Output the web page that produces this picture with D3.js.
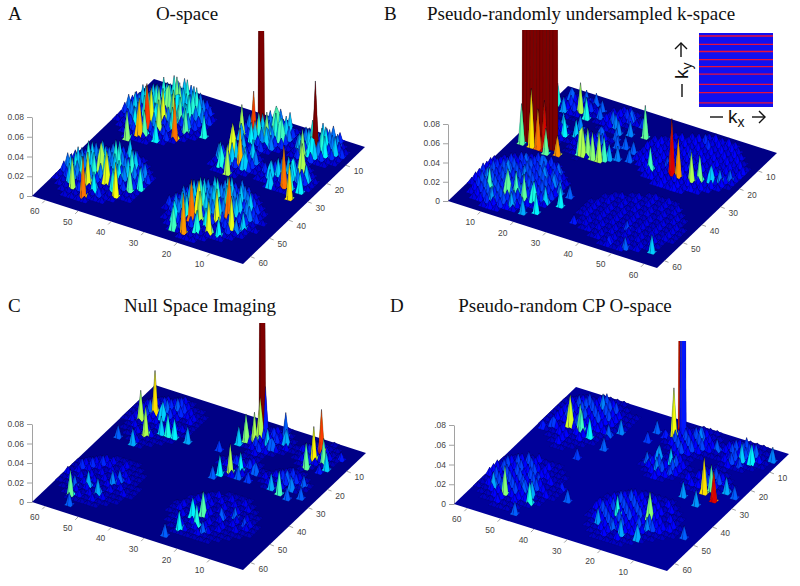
<!DOCTYPE html>
<html><head><meta charset="utf-8">
<script src="https://cdn.jsdelivr.net/npm/d3@7/dist/d3.min.js"></script>
<style>html,body{margin:0;padding:0;background:#fff}svg{display:block}</style>
</head><body><svg id="c" width="800" height="586"></svg>
<script>
// ---- data: [u, v, height, optional colour value]
const zTicks=[0,0.02,0.04,0.06,0.08];
const edgeTicks=[10,20,30,40,50,60];
const insetRows=[2.6,9.8,16,23,29,35.5,44.5,51.5,60.5];
const peaksA=[[10,21,.045],[9,17,.033],[12,16,.033],[14,14,.03],[16,14,.025],[8,28,.028],[10,25,.038],[11,18,.02],[19,22,.042],[25,17,.022],[13,20,.03],[16,18,.022],[7,22,.02],[11,24,.025],[15,25,.02],[18,14,.02],[6,12,.018],[20,18,.025],[14,11,.02],[10,11,.02],
[4,48,.02],[7,55,.03],[12,58,.042],[10,52,.033],[10,45,.03],[14,49,.033],[19,53,.034],[21,49,.025],[23,47,.022],[7,50,.022],[13,54,.02],[16,46,.02],[17,51,.022],[5,53,.018],
[42,53,.042],[42,49,.034],[43,59,.04],[40,59,.024],[48,50,.033],[50,47,.042],[49,56,.033],[53,51,.033],[56,50,.018],[46,57,.022],[44,52,.03],[52,56,.02],[40,52,.022],[47,54,.02],[55,52,.014],[38,55,.02],
[36,21,.033],[40,24,.038],[39,29,.03],[36,27,.022],[42,25,.018],[34,24,.018],[37,17,.016],[41,19,.018],
[36,6,.6],[36,10,.045],[33,11,.03],[40,5,.025],[43,5,.018],[44,9,.024],[40,10,.028],[34,13,.016],[37,13,.02],[41,12,.018],
[55,27,.042],[56,19,.03],[52,29,.018],[59,31,.036],[60,27,.02],[57,27,.022],[55,22,.02],[50,25,.018],[59,22,.018],
[53,7,.068],[52,12,.028],[55,5,.02],[57,9,.02],[50,10,.018],[58,4,.014],[54,11,.02]];
const peaksB=[[3,28,1],[4,28,1],[5,28,1],[6,28,1],[7,28,1],[8,28,1],[9,28,1],[10,28,1],[11,28,1],[12,28,1],
[3,30,.041,.026],[6,30,.06,.036],[8,30,.041,.042],[10,30,.052,.05],[11,31,.026,.026],[14,30,.02,.04],
[9,9,.03],[12,11,.022],[2,9,.022],[5,11,.015],[8,4,.012],[11,4,.012],[14,6,.012],[4,5,.012],[15,9,.012],[11,21,.02],[14,20,.018],[9,18,.016],[13,16,.014],
[19,27,.024],[20,27,.03],[21,26,.028],[23,27,.028],[25,27,.03],[26,26,.024],[27,25,.016],[29,24,.014],[32,23,.012],[22,20,.012],[26,19,.012],[18,22,.012],[24,16,.012],[28,18,.012],[20,17,.012],[31,19,.012],
[30,11,.033,.026],[23,6,.012],[21,11,.014],[23,13,.014],[19,9,.012],[26,12,.014],[27,7,.01],
[45,23,.058,.05],[47,23,.04],[51,23,.03],[53,22,.027],[39,24,.024],[56,21,.018],[58,20,.014],[60,18,.012],[42,20,.01],[48,18,.01],
[12,53,.026],[7,54,.024],[14,52,.024],[17,53,.026],[20,53,.022],[23,52,.018],[27,51,.02],[23,57,.02],[10,58,.015],[16,58,.016],[4,50,.014],[7,44,.014],[12,44,.014],[17,42,.014],[21,44,.014],[24,46,.014],[14,37,.012],[19,38,.012],[9,38,.012],[20,59,.016],[27,46,.012],
[59,58,.018],[48,52,.01],[52,60,.012],[47,60,.008],[34,56,.008]];
const peaksC=[[36,6,.6],[37,6,.05,.008],[36,7,.04,.03],[36,10,.03],[34,11,.028],[33,13,.018],[42,4,.025,.012],[44,7,.016],[40,10,.018],[42,11,.012],
[54,6,.045],[54,10,.035],[54,14,.026],[57,10,.026],[59,12,.018],[60,6,.008],[58,14,.008],
[54,28,.024],[51,27,.016],[56,25,.014],[58,22,.012],[60,27,.012],[53,22,.012],[57,29,.012],
[38,26,.03],[36,28,.02],[40,24,.02],[35,30,.012],[44,23,.012],[44,27,.01],[41,27,.012],
[7,12,.045,.036],[5,16,.03],[10,22,.03],[10,13,.018],[15,19,.022],[17,19,.02],[13,19,.018],[21,19,.016],[9,27,.016],[4,26,.012],[30,18,.01],
[7,56,.026],[9,50,.016],[13,52,.016],[14,46,.014],[15,44,.012],[9,60,.012],[6,52,.012],
[42,47,.025],[40,49,.02],[43,52,.022],[40,56,.02],[38,60,.012],[47,46,.012],[50,44,.012],[54,46,.01],[46,54,.012]];
const peaksD=[[34,4,.6,.05],[35,5,.6,.008],[34,8,.05,.034],[41,6,.014],[47,8,.012],[32,9,.008],
[55,9,.018],[58,9,.02],[57,5,.012],[62,5,.014],[52,10,.008],[56,12,.01],
[54,27,.036],[55,25,.026],[58,29,.03,.05],[50,31,.015],[55,33,.015],[59,24,.016],[62,25,.012],
[36,19,.015],[40,20,.018],[34,22,.012],[38,24,.014],[42,24,.01],
[8,17,.032],[11,17,.026],[12,18,.024],[15,19,.02],[19,16,.012],[21,13,.014],[29,8,.012],[15,5,.01],[4,19,.01],[17,29,.01],[21,22,.012],[2,21,.008],[29,13,.01],
[9,53,.028],[5,52,.016],[17,54,.022],[16,51,.016],[16,60,.012],[25,48,.012],[21,44,.008],[14,44,.01],[13,50,.012],
[48,45,.028],[40,48,.022],[37,53,.015],[50,55,.016],[45,55,.016],[50,50,.014],[60,48,.012],[42,54,.012]];
// low texture: one digit per lattice cell
const lowA=["0000000000000000 0013100000232000","0000343000000000 0234241023432100","0023535432000000 1323432135243210","0235464353200000 3243523124352420","1342536454210000 2354342132334210","2435364253320000 2243322113242110","2354625342210000 1122131012121100","3425343423210000 0111210001110000","2335242312110000 0012100000111000","1232231211110000 0232310001232100","1122121211100000 2343231023432210","0112112121000000 3242421234243210","0011211110000000 1232221121221110","0001111000000000 1121110112121100","0000000000000000 0111100001111000","0000000000000000 0000000000000000","0000000000000000 0000000000000000","0000124210000000 0000012321000000","0012342321000000 0001234232100000","0134353242100000 0023435343210000","1243435352310000 0134353432421000","2352434243320000 0245342534321000","2434342332210000 1342534324232100","3242533221210000 1234243432221000","2431322212110000 2342324222121100","1232221121110000 1232221212111000","1121212111110000 0122121211211000","0111211211000000 0112121121110000","0011111110000000 0011211111100000","0001111000000000 0001111110000000","0000000000000000 0000011100000000"];
const lowB=["0000000000000000 0000000000000000","0023200003420000 0000003434300000","0245420034542000 0000345343430000","1354353134353000 0034343534343000","1245342045421000 0243434343434200","0123310234310000 3434343434343420","0012100013210000 3434345343434340","0000000001000000 4343434343434340","0013200023420000 3434343434343430","0235420354420000 3434343434343430","1345341354532000 3434343434343420","1454532345441000 0343434343434300","0234320234531000 0034343434343000","0012100123210000 0003434343430000","0000000001000000 0000034343000000","0000000000000000 0000000000000000","0000000000000000 0000000000000000","0000354530000000 0000002323200000","0035456453000000 0000232323230000","0354565645300000 0023232323232000","3456565656530000 0232323232323200","4565656565630000 0232323232323200","4656565656540000 2323232323232320","5656565656540000 2323232323232320","4565656565650000 2323232323232320","4656565656530000 2323232323232320","3565656565430000 0232323232323200","0456565654300000 0232323232323200","0345656543000000 0023232323232000","0034545430000000 0000232323230000","0000343000000000 0000002323000000"];
const lowC=["0000000000000000 0000100000010000","0000121000000000 0012110001211000","0012232110000000 0123211012321100","0123343211000000 1232321123232100","1232423221000000 1323212112321100","1243332121000000 0232321012321000","1232322111000000 0123210001210000","1222212221000000 0012100000100000","1212122111000000 0011100001110000","0121212110000000 0121210012321000","0112121110000000 1232321123232100","0012111100000000 1212121212321100","0001211000000000 0121210121211000","0000110000000000 0012100011100000","0000000000000000 0000000000000000","0000000000000000 0000000000000000","0000000000000000 0000000000000000","0000111100000000 0000011110000000","0012212110000000 0001212121000000","0123212111000000 0012121212100000","1232121211000000 0123212121110000","1321212121000000 0121212121210000","1212121211100000 1212121212121000","2121212121100000 1212121212121000","1212121212100000 1121212121211000","1121212111000000 0121212121110000","0112121211000000 0112121211100000","0011212110000000 0011212111000000","0001111100000000 0001111110000000"];
const lowD=["0000111100000000 0001110000111000","0011232110000000 0112211012321100","0123243211100000 1223321123332110","1233323221100000 1232322123232210","1223232321100000 1323232112322110","1232323221100000 1232321112321100","1232322211100000 0123211001211000","1222322221000000 0012110001100000","1212232111000000 0111210011110000","1122122110000000 1212321012321000","0112212110000000 1232321123232100","0011211100000000 1223221212321100","0001211000000000 0122210122211000","0000110000000000 0012100011100000","0000000000000000 0000000000000000","0000000000000000 0000000000000000","0000000000000000 0000000000000000","0001211100000000 0000111110000000","0123212110000000 0012212121000000","1232322111000000 0123221212100000","1323232211000000 1232322221110000","2323232121000000 1223232321210000","2232323211100000 2232323222121000","2323232321100000 2323232232221000","1232323212100000 1232322323211000","1223232211000000 1223232221110000","1122322211000000 0122322211100000","0112212110000000 0112212111000000","0011211100000000 0011212110000000","0000111000000000 0001111100000000"];

const svg=d3.select('#c');
const defs=svg.append('defs');
defs.append('filter').attr('id','soft').attr('x',-.02).attr('y',-.02).attr('width',1.04).attr('height',1.04)
  .append('feGaussianBlur').attr('stdDeviation',.35);
const jet=d3.scaleLinear().domain([0,.125,.375,.625,.875,1].map(t=>t*.055))
  .range(['#000085','#0000ff','#00ffff','#ffff00','#ff0000','#7f0000']).clamp(true);
const N=64;
const f2=d=>d?d3.format('.2f')(d):'0';
const panels=[
 {id:'A',title:'O-space',tx:187,ty:20,lx:8,peaks:peaksA,low:lowA,unit:.0045,L:[32,196],B:[243,264],R:[365,147],z8:117,clip:31,reversed:true,fmt:f2,base:'#000085'},
 {id:'B',title:'Pseudo-randomly undersampled k-space',tx:581,ty:20,lx:384,peaks:peaksB,low:lowB,unit:.0018,L:[448,201],B:[657,268],R:[777,153],z8:124,clip:30,reversed:false,fmt:f2,base:'#000085'},
 {id:'C',title:'Null Space Imaging',tx:200,ty:312,lx:8,peaks:peaksC,low:lowC,unit:.003,L:[32,502],B:[243,570],R:[366,453],z8:424,clip:323,reversed:true,fmt:f2,base:'#000085'},
 {id:'D',title:'Pseudo-random CP O-space',tx:565,ty:312,lx:390,peaks:peaksD,low:lowD,unit:.0035,L:[454,504],B:[667,571],R:[789,454],z8:425,clip:341,reversed:true,fmt:d=>d?d3.format('.2f')(d).slice(1):'0',base:'#00009a'}
];
panels.forEach(p=>{
  const g=svg.append('g');
  const [Lx,Ly]=p.L,[Bx,By]=p.B,[Rx,Ry]=p.R;
  const uX=d3.scaleLinear([0,N],[0,Bx-Lx]),uY=d3.scaleLinear([0,N],[0,By-Ly]);
  const wX=d3.scaleLinear([N,0],[0,Rx-Bx]),wY=d3.scaleLinear([N,0],[0,Ry-By]);
  const zY=d3.scaleLinear([0,.08],[p.L[1],p.z8]);
  const px=(u,v)=>Lx+uX(u)+wX(v);
  const py=(u,v,z)=>uY(u)+wY(v)+zY(z);
  const Z=d3.range(N+1).map(()=>new Float64Array(N+1));
  const C=d3.range(N+1).map(()=>new Float64Array(N+1));
  p.low.forEach((row,j)=>{
    row.replace(/ /g,'').split('').forEach((ch,i)=>{
      const a=2*i+1,b=2*j+1;
      if(a<=N&&b<=N){Z[a][b]=+ch*p.unit;C[a][b]=+ch*p.unit;}
    });
  });
  p.peaks.forEach(([u,v,h,c])=>{Z[u][v]=h;C[u][v]=c===undefined?h:c;});
  svg.append('text').attr('x',p.lx).attr('y',p.ty).attr('font-family','Liberation Serif').attr('font-size',19).attr('fill','#111').text(p.id);
  svg.append('text').attr('x',p.tx).attr('y',p.ty).attr('text-anchor','middle').attr('font-family','Liberation Serif').attr('font-size',19).attr('fill','#111').text(p.title);
  const ax=g.append('g').attr('transform',`translate(${Lx},0)`)
    .call(d3.axisLeft(zY).tickValues(zTicks).tickFormat(p.fmt).tickSize(5).tickSizeOuter(0).tickPadding(3));
  ax.selectAll('path,line').attr('stroke','#8a8a8a').attr('stroke-width',.8);
  ax.selectAll('text').attr('font-family','Liberation Sans').attr('font-size',8.5).attr('fill','#444');
  const clipId='clip'+p.id;
  defs.append('clipPath').attr('id',clipId).append('rect').attr('x',0).attr('y',p.clip).attr('width',800).attr('height',586-p.clip);
  const clipG=g.append('g').attr('clip-path',`url(#${clipId})`);
  const s=clipG.append('g').attr('filter','url(#soft)');
  s.append('polygon').attr('fill',p.base)
    .attr('points',[[0,0],[0,N],[N,N],[N,0]].map(([u,v])=>[px(u,v),py(u,v,0)].join(',')).join(' '));
  const faces=[];
  for(let i=0;i<N;i++)for(let j=0;j<N;j++){
    if(!(Z[i][j]||Z[i+1][j]||Z[i][j+1]||Z[i+1][j+1]))continue;
    faces.push([i,j]);
  }
  s.selectAll('path').data(faces).join('path')
   .attr('d',([i,j])=>{
     const q=[[i,j],[i+1,j],[i+1,j+1],[i,j+1]];
     return 'M'+q.map(([a,b])=>px(a,b).toFixed(2)+','+py(a,b,Z[a][b]).toFixed(2)).join('L')+'Z';
   })
   .attr('fill',([i,j])=>jet(Math.max(C[i][j],C[i+1][j],.8*C[i][j+1],.8*C[i+1][j+1])))
   .attr('stroke','rgba(0,0,30,.4)').attr('stroke-width',.35);
  const e=g.append('g');
  edgeTicks.forEach(t=>{
    const u=p.reversed?N-t:t;
    const x=px(u,N),y=py(u,N,0);
    e.append('line').attr('x1',x).attr('y1',y).attr('x2',x-3).attr('y2',y+3).attr('stroke','#8a8a8a').attr('stroke-width',.8);
    e.append('text').attr('x',x-10.5).attr('y',y+11).attr('text-anchor','middle').attr('dy','.35em').attr('font-family','Liberation Sans').attr('font-size',8.5).attr('fill','#444').text(t);
    const x2=px(N,t),y2=py(N,t,0);
    e.append('line').attr('x1',x2).attr('y1',y2).attr('x2',x2+4).attr('y2',y2+1.5).attr('stroke','#8a8a8a').attr('stroke-width',.8);
    e.append('text').attr('x',x2+12.5).attr('y',y2+6).attr('text-anchor','middle').attr('dy','.35em').attr('font-family','Liberation Sans').attr('font-size',8.5).attr('fill','#444').text(t);
  });
});
const iy=d3.scaleLinear([0,N],[33,107]);
const ig=svg.append('g');
ig.append('rect').attr('x',699).attr('y',iy(0)).attr('width',74).attr('height',iy(N)-iy(0)).attr('fill','#1010f0');
ig.selectAll('line.r').data(insetRows).join('line').attr('x1',699).attr('x2',773).attr('y1',d=>iy(d)).attr('y2',d=>iy(d)).attr('stroke','#e8103a').attr('stroke-width',1.3);
const ink='#111';
function seg(pts){ig.append('polyline').attr('points',pts.join(' ')).attr('fill','none').attr('stroke',ink).attr('stroke-width',1.4);}
seg([[681,57],[681,43]]);seg([[675,49],[681,43],[687,49]]);
seg([[682,84],[682,97]]);
seg([[710,117],[723,117]]);
seg([[752,117],[765,117]]);seg([[759,111],[765,117],[759,123]]);
const kx=ig.append('text').attr('x',728).attr('y',123).attr('font-family','Liberation Sans').attr('font-size',19).attr('fill',ink);
kx.append('tspan').text('k');kx.append('tspan').attr('dy',4).attr('font-size',14).text('x');
const ky=ig.append('text').attr('transform','translate(688,79) rotate(-90)').attr('font-family','Liberation Sans').attr('font-size',19).attr('fill',ink);
ky.append('tspan').text('k');ky.append('tspan').attr('dy',4).attr('font-size',14).text('y');
</script></body></html>
